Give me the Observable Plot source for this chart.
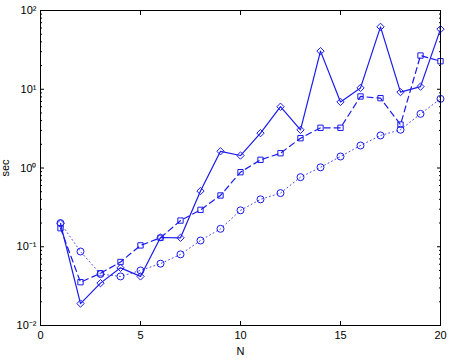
<!DOCTYPE html>
<html><head><meta charset="utf-8">
<script src="https://cdn.jsdelivr.net/npm/d3@7"></script>
<script src="https://cdn.jsdelivr.net/npm/@observablehq/plot@0.6"></script>
<style>body{margin:0;background:#fff}</style>
</head><body><div id="chart"></div>
<script>
const N = [1,2,3,4,5,6,7,8,9,10,11,12,13,14,15,16,17,18,19,20];
const diamondSec = [0.197,0.019,0.0345,0.054,0.042,0.131,0.13,0.51,1.63,1.44,2.77,6.0,3.05,30.5,6.9,10.4,62,9.2,10.8,58];
const squareSec = [0.172,0.0355,0.046,0.064,0.104,0.13,0.215,0.294,0.448,0.885,1.27,1.54,2.39,3.24,3.24,8.1,7.7,3.56,26.8,22.7];
const circleSec = [0.2,0.087,0.045,0.042,0.05,0.061,0.08,0.12,0.169,0.29,0.40,0.48,0.765,1.02,1.40,1.93,2.59,3.06,4.87,7.55];
const xTicks = [0,5,10,15,20];
const yTicks = [1e-2,1e-1,1,10,100];
const yTickLabels = ["10⁻²","10⁻¹","10⁰","10¹","10²"];

const rows = (vals) => N.map((n,i) => ({n, v: vals[i]}));
const dia = rows(diamondSec), sq = rows(squareSec), ci = rows(circleSec);
const minorY = [];
for (const d of [0.01,0.1,1,10]) for (let k=2;k<=9;k++) minorY.push(d*k);
const blue = "#1a1aee";
const font = "Liberation Sans, Arial, sans-serif";

const chart = Plot.plot({
  width: 449, height: 360,
  marginLeft: 40, marginRight: 9, marginTop: 10, marginBottom: 35,
  style: {fontFamily: font, fontSize: "11px", color: "#000", background: "#fff"},
  x: {domain: [0,20]},
  y: {type: "log", domain: [0.01,100]},
  marks: [
    Plot.line(ci, {x:"n", y:"v", stroke: blue, strokeWidth: 1, strokeDasharray: "1,3", strokeOpacity: 0.8}),
    Plot.line(sq, {x:"n", y:"v", stroke: blue, strokeWidth: 1.2, strokeDasharray: "6,4"}),
    Plot.line(dia, {x:"n", y:"v", stroke: blue, strokeWidth: 1.2}),
    Plot.dot(ci, {x:"n", y:"v", symbol:"circle", r:3.5, stroke: blue, fill:"none", strokeWidth:1}),
    Plot.dot(sq, {x:"n", y:"v", symbol:"square2", r:3.4, stroke: blue, fill:"none", strokeWidth:1}),
    Plot.dot(dia, {x:"n", y:"v", symbol:"diamond2", r:3.3, stroke: blue, fill:"none", strokeWidth:1}),
    Plot.frame({stroke:"#000", strokeWidth: 1}),
    Plot.axisX({ticks: xTicks, tickSize: -4, tickPadding: 10, label: "N", labelAnchor: "center", labelArrow: "none", labelOffset: 29, fontSize: 11}),
    Plot.axisX({anchor: "top", ticks: xTicks, tickSize: -4, tickFormat: () => "", label: null}),
    Plot.axisY({ticks: yTicks, tickSize: -4, tickPadding: 8, tickFormat: (d) => yTickLabels[yTicks.indexOf(d)], label: "sec", labelAnchor: "center", labelArrow: "none", labelOffset: 39}),
    Plot.axisY({anchor: "right", ticks: yTicks, tickSize: -4, tickFormat: () => "", label: null}),
    Plot.axisY({ticks: minorY, tickSize: -2, tickFormat: () => "", label: null}),
    Plot.axisY({anchor: "right", ticks: minorY, tickSize: -2, tickFormat: () => "", label: null})
  ]
});
document.getElementById("chart").appendChild(chart);
</script></body></html>
